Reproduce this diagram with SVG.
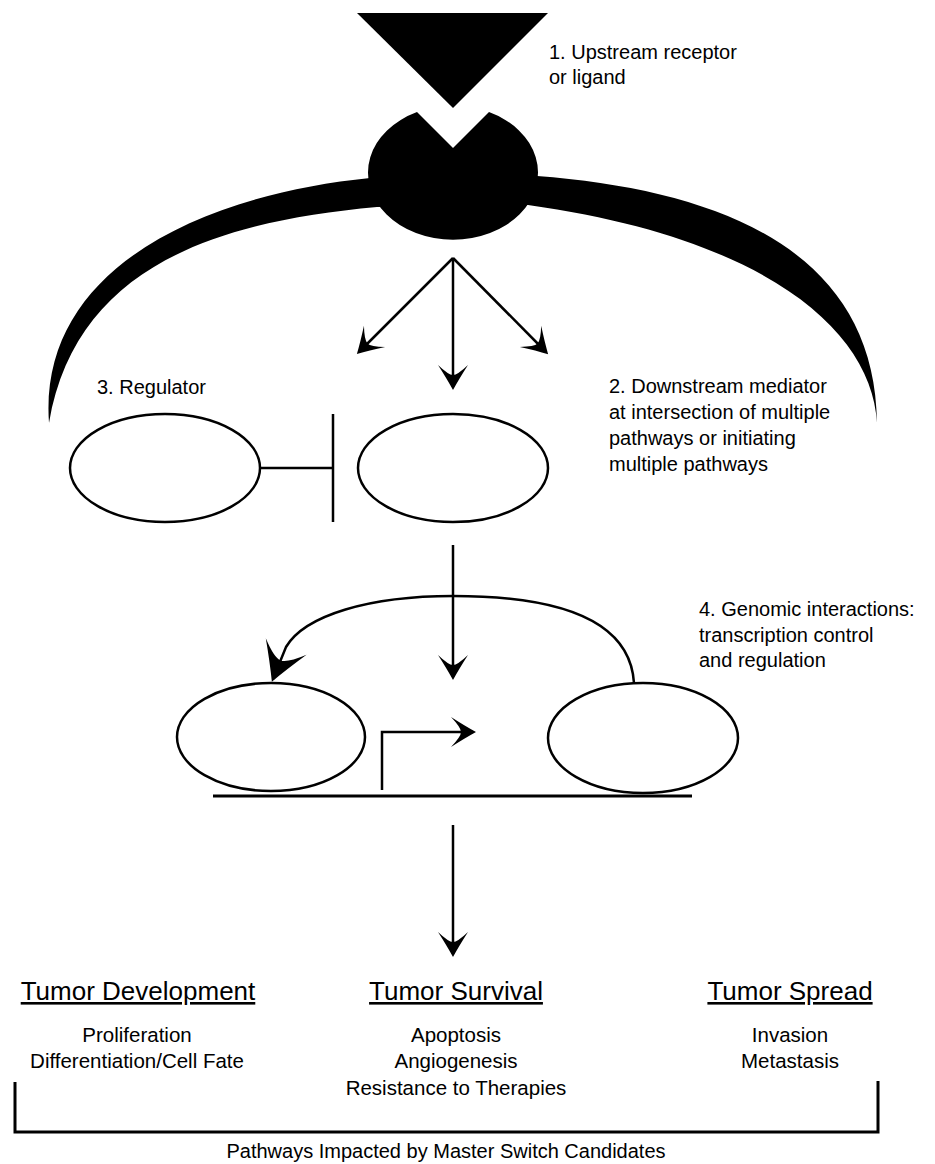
<svg xmlns="http://www.w3.org/2000/svg" width="935" height="1164" viewBox="0 0 935 1164">
<style>
.ln{fill:none;stroke:#000;stroke-width:2.5}
.el{fill:#fff;stroke:#000;stroke-width:2.5}
.t{font-family:"Liberation Sans",Arial,sans-serif;font-size:20px;fill:#000}
.h{font-family:"Liberation Sans",Arial,sans-serif;font-size:26px;fill:#000;text-decoration:underline}
.s{font-family:"Liberation Sans",Arial,sans-serif;font-size:20.5px;fill:#000}
</style>
<defs>
<marker id="ah" markerUnits="userSpaceOnUse" orient="auto" refX="0" refY="0" markerWidth="40" markerHeight="40" overflow="visible">
<path d="M3,0 Q-8,-6 -22,-15 Q-12,-4.5 -12,0 Q-12,4.5 -22,15 Q-8,6 3,0Z" fill="#000"/>
</marker>
<marker id="ahL" markerUnits="userSpaceOnUse" orient="auto" refX="0" refY="0" markerWidth="60" markerHeight="60" overflow="visible">
<path d="M3,0 Q-14,-9 -35,-22 Q-20,-7 -20,0 Q-20,7 -35,22 Q-14,9 3,0Z" fill="#000"/>
</marker>
</defs>
<g id="membrane">
<path d="M49,423 C38,270 200,195 370,178 L537,176 C720,190 875,250 877,423 C872,330 765,238 528,205 L377,207 C210,222 75,270 49,423 Z" fill="#000"/>
</g>
<g id="receptor">
<path d="M417,112 L453,148 L489,112 A85 67 0 1 1 417,112 Z" fill="#000"/>
</g>
<g id="ligand">
<polygon points="357,13 548,13 453,108" fill="#000"/>
</g>
<g id="regulator">
<ellipse class="el" cx="165" cy="468" rx="95" ry="54"/>
</g>
<g id="mediator">
<ellipse class="el" cx="453" cy="468" rx="95" ry="54"/>
</g>
<g id="factor-left">
<ellipse class="el" cx="271" cy="737" rx="94" ry="54"/>
</g>
<g id="factor-right">
<ellipse class="el" cx="643" cy="738" rx="95" ry="55"/>
</g>
<g id="dna">
<path class="ln" d="M213,796 H692" style="stroke-width:3"/>
</g>
<g id="connectors">
<path class="ln" d="M453,258 L359,352" marker-end="url(#ah)"/>
<path class="ln" d="M453,258 L453,387" marker-end="url(#ah)"/>
<path class="ln" d="M453,258 L546,352" marker-end="url(#ah)"/>
<path class="ln" d="M260,468 H333 M333,414 V522"/>
<path class="ln" d="M453,545 V677" marker-end="url(#ah)"/>
<path class="ln" d="M634,683 C630,620 560,596 453,596 C370,596 305,615 286,647 L273,679" marker-end="url(#ahL)"/>
<path class="ln" d="M382,790 V732 H473" marker-end="url(#ah)"/>
<path class="ln" d="M453,825 V954" marker-end="url(#ah)"/>
<path class="ln" d="M15,1082 V1132 H878 V1081" style="stroke-width:3"/>
</g>
<g id="labels">
<text class="t" x="549" y="59">1. Upstream receptor</text>
<text class="t" x="549" y="84">or ligand</text>
<text class="t" x="97" y="394">3. Regulator</text>
<text class="t" x="609" y="393">2. Downstream mediator</text>
<text class="t" x="609" y="419">at intersection of multiple</text>
<text class="t" x="609" y="445">pathways or initiating</text>
<text class="t" x="609" y="471">multiple pathways</text>
<text class="t" x="699" y="616">4. Genomic interactions:</text>
<text class="t" x="699" y="642">transcription control</text>
<text class="t" x="699" y="667">and regulation</text>
</g>
<g id="outcomes" text-anchor="middle">
<text class="h" x="138" y="1000">Tumor Development</text>
<text class="h" x="456" y="1000">Tumor Survival</text>
<text class="h" x="790" y="1000">Tumor Spread</text>
<text class="s" x="137" y="1042">Proliferation</text>
<text class="s" x="137" y="1068">Differentiation/Cell Fate</text>
<text class="s" x="456" y="1042">Apoptosis</text>
<text class="s" x="456" y="1068">Angiogenesis</text>
<text class="s" x="456" y="1095">Resistance to Therapies</text>
<text class="s" x="790" y="1042">Invasion</text>
<text class="s" x="790" y="1068">Metastasis</text>
<text class="t" x="446" y="1158">Pathways Impacted by Master Switch Candidates</text>
</g>
</svg>
